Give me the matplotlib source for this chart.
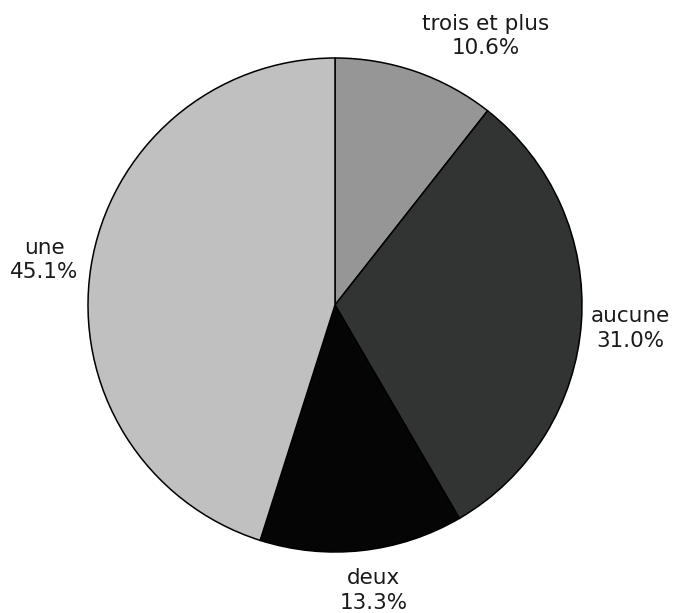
import matplotlib.pyplot as plt

categories = ['trois et plus', 'aucune', 'deux', 'une']
values = [10.6, 31.0, 13.3, 45.1]
colors = ['#969696', '#323434', '#050505', '#c0c0c0']

fig = plt.figure(figsize=(6.74, 6.13), dpi=100)
ax = fig.add_axes([88 / 674, 61 / 613, 494 / 674, 494 / 613])

labels = [c + '\n' + f'{v:.1f}%' for c, v in zip(categories, values)]
wedges, texts = ax.pie(values, labels=labels, colors=colors, startangle=90,
                       counterclock=False, labeldistance=1.19,
                       wedgeprops={'edgecolor': 'black', 'linewidth': 1.1},
                       textprops={'fontsize': 15.5, 'color': '#1a1a1a',
                                  'linespacing': 1.28})
for t in texts:
    t.set_ha('center')
    t.set_va('center')
# small tweaks so labels sit where the original puts them
texts[0].set_position((0.61, 1.09))
texts[1].set_position((1.195, -0.095))
texts[2].set_position((0.155, -1.155))

ax.set_xlim(-1, 1)
ax.set_ylim(-1, 1)
ax.set_aspect('equal')

fig.savefig('out.png', dpi=100)
